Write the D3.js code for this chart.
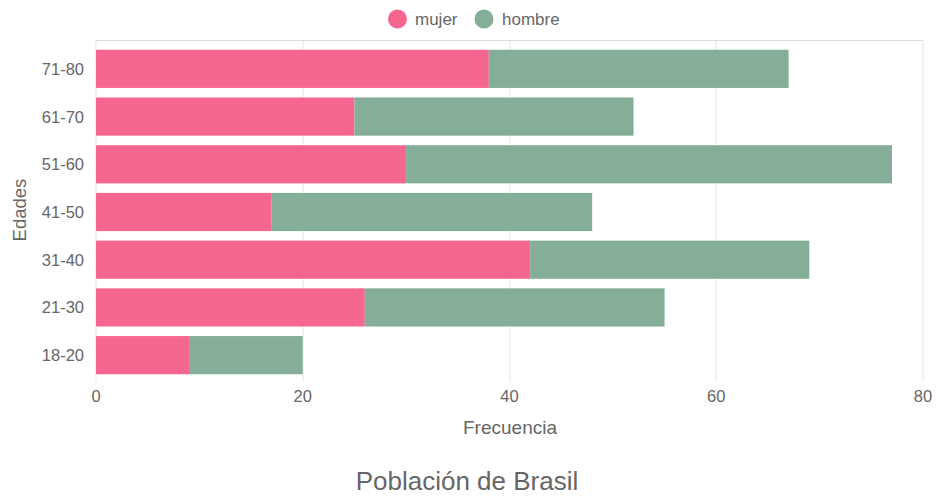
<!DOCTYPE html>
<html><head><meta charset="utf-8">
<script src="https://cdn.jsdelivr.net/npm/d3@7"></script>
<style>body{margin:0;background:#fff}svg{display:block;font-family:"Liberation Sans",Arial,sans-serif}</style>
</head><body>
<svg id="c" width="937" height="496"></svg>
<script>
const categories = ["71-80","61-70","51-60","41-50","31-40","21-30","18-20"];
const mujer = [38,25,30,17,42,26,9];
const hombre = [29,27,47,31,27,29,11];
const seriesNames = ["mujer","hombre"];
const xTicks = [0,20,40,60,80];
const colors = ["#f6678f","#84ae98"];

const svg = d3.select("#c");
const x = d3.scaleLinear().domain([0,80]).range([96,923]);
const y = d3.scaleBand().domain(categories).range([45,379]).paddingInner(0.2).paddingOuter(0.1);
const txt = "#666";

// grid
svg.append("g").selectAll("line").data(xTicks).join("line")
  .attr("x1",d=>Math.round(x(d))).attr("x2",d=>Math.round(x(d))).attr("y1",40).attr("y2",382)
  .attr("stroke","#e5e5e5").attr("stroke-width",1);
svg.append("line").attr("x1",96).attr("x2",923).attr("y1",40.5).attr("y2",40.5).attr("stroke","#dcdcdc");

const rows = categories.map((c,i)=>({c, m:mujer[i], h:hombre[i]}));
const stack = d3.stack().keys(["m","h"])(rows);
svg.append("g").selectAll("g").data(stack).join("g").attr("fill",(d,i)=>colors[i])
  .selectAll("rect").data(d=>d).join("rect")
  .attr("x",d=>x(d[0])).attr("width",d=>x(d[1])-x(d[0]))
  .attr("y",d=>y(d.data.c)).attr("height",y.bandwidth());

// y axis labels
svg.append("g").selectAll("text").data(categories).join("text")
  .attr("x",84).attr("y",d=>y(d)+y.bandwidth()/2).attr("dy","0.36em")
  .attr("text-anchor","end").attr("fill",txt).attr("font-size",16.5).text(d=>d);
// x axis labels
svg.append("g").selectAll("text").data(xTicks).join("text")
  .attr("x",d=>x(d)).attr("y",402).attr("text-anchor","middle")
  .attr("fill",txt).attr("font-size",16.5).text(d=>d);

svg.append("text").attr("x",510).attr("y",434).attr("text-anchor","middle")
  .attr("fill",txt).attr("font-size",19).text("Frecuencia");
svg.append("text").attr("transform","translate(26,210) rotate(-90)").attr("text-anchor","middle")
  .attr("fill",txt).attr("font-size",18.5).text("Edades");
svg.append("text").attr("x",467).attr("y",490).attr("text-anchor","middle")
  .attr("fill",txt).attr("font-size",26).text("Población de Brasil");

// legend
const leg = [{n:seriesNames[0],cx:397.5,tx:415},{n:seriesNames[1],cx:484,tx:502}];
leg.forEach((l,i)=>{
  svg.append("circle").attr("cx",l.cx).attr("cy",19).attr("r",9.5).attr("fill",colors[i]);
  svg.append("text").attr("x",l.tx).attr("y",25).attr("fill",txt)
    .attr("font-size",17).text(l.n);
});
</script>
</body></html>
